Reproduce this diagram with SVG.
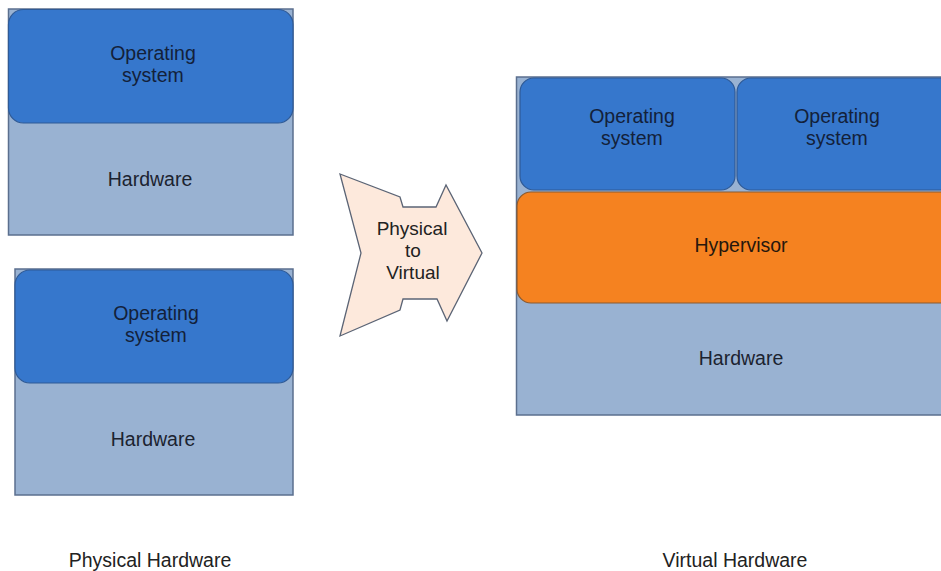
<svg xmlns="http://www.w3.org/2000/svg" width="941" height="571" viewBox="0 0 941 571">
  <style>
    .hw { fill: #99b2d2; stroke: #5b6f8e; stroke-width: 1.5; }
    .os { fill: #3677cc; stroke: #2f5a96; stroke-width: 1.2; }
    .hv { fill: #f58220; stroke: #8a5a30; stroke-width: 1.2; }
    .arrow { fill: #fde9dc; stroke: #5b6475; stroke-width: 1.3; stroke-linejoin: miter; }
    text { font-family: "Liberation Sans", Arial, sans-serif; font-size: 19.5px; text-anchor: middle; }
    .t-os { fill: #13213a; }
    .t-hw { fill: #1c2330; }
    .t-hv { fill: #26170d; }
    .t-ar { fill: #222222; font-size: 19px; }
    .cap { fill: #222222; font-size: 19.5px; }
  </style>

  <rect width="941" height="571" fill="#ffffff"/>

  <!-- Physical machine 1 -->
  <g id="physical-1">
    <rect class="hw" x="8.5" y="9" width="284.5" height="226"/>
    <rect class="os" x="8.5" y="9.5" width="284.5" height="113.5" rx="15"/>
    <text class="t-os" x="153" y="60">Operating</text>
    <text class="t-os" x="153" y="82">system</text>
    <text class="t-hw" x="150" y="186">Hardware</text>
  </g>

  <!-- Physical machine 2 -->
  <g id="physical-2">
    <rect class="hw" x="15" y="269" width="278" height="226"/>
    <rect class="os" x="15" y="270" width="278" height="113" rx="15"/>
    <text class="t-os" x="156" y="320">Operating</text>
    <text class="t-os" x="156" y="342">system</text>
    <text class="t-hw" x="153" y="446">Hardware</text>
  </g>

  <!-- Physical to Virtual arrow -->
  <g id="p2v-arrow">
    <polygon class="arrow" points="340,174 400,197 403,207 436,207 446,185 482,253 447,321 437,299 403,299 400,310 340,336 361,253"/>
    <text class="t-ar" x="412" y="235">Physical</text>
    <text class="t-ar" x="413" y="257">to</text>
    <text class="t-ar" x="413" y="279">Virtual</text>
  </g>

  <!-- Virtualised host -->
  <g id="virtual-host">
    <rect class="hw" x="516.5" y="77" width="440" height="338"/>
    <text class="t-hw" x="741" y="365">Hardware</text>
  </g>
  <g id="hypervisor">
    <rect class="hv" x="517" y="192" width="440" height="111" rx="14"/>
    <text class="t-hv" x="741" y="252">Hypervisor</text>
  </g>
  <g id="guest-os-1">
    <rect class="os" x="520" y="78" width="215" height="112" rx="14"/>
    <text class="t-os" x="632" y="123">Operating</text>
    <text class="t-os" x="632" y="145">system</text>
  </g>
  <g id="guest-os-2">
    <rect class="os" x="737" y="78" width="220" height="112" rx="14"/>
    <text class="t-os" x="837" y="123">Operating</text>
    <text class="t-os" x="837" y="145">system</text>
  </g>

  <g id="connectors"/>

  <!-- Captions -->
  <g id="captions">
    <text class="cap" x="150" y="567">Physical Hardware</text>
    <text class="cap" x="735" y="567">Virtual Hardware</text>
  </g>
</svg>
